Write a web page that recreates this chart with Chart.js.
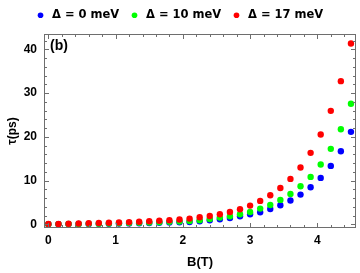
<!DOCTYPE html>
<html>
<head>
<meta charset="utf-8">
<script src="https://cdn.jsdelivr.net/npm/chart.js@4.4.0/dist/chart.umd.min.js"></script>
<style>
  html, body { margin: 0; padding: 0; background: #fff; }
  #wrap { width: 360px; height: 273px; }
</style>
</head>
<body>
<div id="wrap"><canvas id="tauChart" width="360" height="273"></canvas></div>
<script>
// magnetic field B (T), one point every 0.15 T
const fieldB = [0, 0.15, 0.3, 0.45, 0.6, 0.75, 0.9, 1.05, 1.2, 1.35, 1.5, 1.65, 1.8, 1.95,
  2.1, 2.25, 2.4, 2.55, 2.7, 2.85, 3.0, 3.15, 3.3, 3.45, 3.6, 3.75, 3.9, 4.05, 4.2, 4.35, 4.5];

// tau (ps)
const tauDelta0 = [0.01, 0.02, 0.04, 0.06, 0.08, 0.1, 0.13, 0.16, 0.2, 0.24, 0.29, 0.35, 0.41, 0.46,
  0.53, 0.69, 0.92, 1.14, 1.45, 1.83, 2.29, 2.75, 3.51, 4.35, 5.42, 6.79, 8.47, 10.6, 13.35, 16.7, 21.13];
const tauDelta10 = [0.02, 0.04, 0.06, 0.09, 0.12, 0.15, 0.19, 0.23, 0.28, 0.33, 0.4, 0.48, 0.56, 0.65,
  0.76, 0.92, 1.22, 1.53, 1.83, 2.29, 2.82, 3.59, 4.42, 5.57, 6.94, 8.7, 10.83, 13.65, 17.24, 21.74, 27.54];
const tauDelta17 = [0.05, 0.08, 0.12, 0.17, 0.22, 0.28, 0.35, 0.42, 0.5, 0.58, 0.68, 0.8, 0.92, 1.08,
  1.3, 1.6, 1.91, 2.29, 2.82, 3.43, 4.27, 5.34, 6.64, 8.31, 10.37, 12.97, 16.33, 20.52, 25.93, 32.72, 41.34];

const seriesLabels = ["Δ = 0 meV", "Δ = 10 meV", "Δ = 17 meV"];
const seriesColors = ["#0000ff", "#00ff00", "#ff0000"];

const xTickValues = [0, 1, 2, 3, 4];
const yTickValues = [0, 10, 20, 30, 40];
const xMinorStep = 0.2;
const yMinorStep = 2;

const FRAME = "#6e6e6e";
const FONT = "'Liberation Sans', Arial, sans-serif";

const toPoints = ys => fieldB.map((b, i) => ({ x: b, y: ys[i] }));

// Mathematica-like frame with inward ticks on all four sides
const frameTicks = {
  id: "frameTicks",
  afterDraw(chart) {
    const { ctx, chartArea: a, scales: { x, y } } = chart;
    ctx.save();
    ctx.strokeStyle = FRAME;
    ctx.lineWidth = 1;
    ctx.strokeRect(a.left + 0.5, a.top + 0.5, a.right - a.left - 1, a.bottom - a.top - 1);

    ctx.beginPath();
    for (let v = 0; v <= x.max + 1e-9; v += xMinorStep) {
      const major = Math.abs(v - Math.round(v)) < 1e-6;
      const len = major ? 5 : 3;
      const px = Math.round(x.getPixelForValue(v)) + 0.5;
      ctx.moveTo(px, a.bottom); ctx.lineTo(px, a.bottom - len);
      ctx.moveTo(px, a.top); ctx.lineTo(px, a.top + len);
    }
    for (let v = 0; v <= y.max + 1e-9; v += yMinorStep) {
      const major = v % 10 === 0;
      const len = major ? 5 : 3;
      const py = Math.round(y.getPixelForValue(v)) + 0.5;
      ctx.moveTo(a.left, py); ctx.lineTo(a.left + len, py);
      ctx.moveTo(a.right, py); ctx.lineTo(a.right - len, py);
    }
    ctx.stroke();

    ctx.fillStyle = "#000";
    ctx.font = "bold 14px " + FONT;
    ctx.textBaseline = "middle";
    ctx.fillText("(b)", a.left + 6, a.top + 12);
    ctx.restore();
  }
};

const ctx = document.getElementById("tauChart").getContext("2d");

new Chart(ctx, {
  type: "scatter",
  data: {
    datasets: [tauDelta0, tauDelta10, tauDelta17].map((ys, i) => ({
      label: seriesLabels[i],
      data: toPoints(ys),
      backgroundColor: seriesColors[i],
      borderWidth: 0,
      pointRadius: 3.2,
      order: 3 - i
    }))
  },
  options: {
    responsive: false,
    animation: false,
    layout: { padding: { top: 0, right: 2, bottom: 0, left: 0 } },
    plugins: {
      tooltip: { enabled: false },
      legend: {
        position: "top",
        labels: {
          usePointStyle: true,
          pointStyle: "circle",
          boxWidth: 12,
          boxHeight: 4,
          padding: 9.5,
          color: "#000",
          font: { family: "'DejaVu Sans', sans-serif", size: 11.5, weight: "bold" },
          sort: (a, b) => a.datasetIndex - b.datasetIndex
        }
      }
    },
    scales: {
      x: {
        type: "linear",
        min: -0.065,
        max: 4.575,
        afterBuildTicks: s => { s.ticks = xTickValues.map(v => ({ value: v })); },
        afterFit: s => { s.height = 45; },
        grid: { display: false, drawTicks: false },
        border: { display: false },
        ticks: {
          padding: 5,
          color: "#000",
          font: { family: FONT, size: 12, weight: "bold" }
        },
        title: {
          display: true,
          text: "B(T)",
          color: "#000",
          padding: { top: 0, bottom: 3 },
          font: { family: FONT, size: 13, weight: "bold" }
        }
      },
      // empty top axis, only used as a small gap under the legend
      xTop: {
        type: "linear",
        position: "top",
        min: -0.065,
        max: 4.575,
        afterFit: s => { s.height = 3; },
        grid: { display: false, drawTicks: false },
        border: { display: false },
        ticks: { display: false }
      },
      y: {
        type: "linear",
        min: -0.85,
        max: 43.5,
        afterBuildTicks: s => { s.ticks = yTickValues.map(v => ({ value: v })); },
        afterFit: s => { s.width = 44; },
        grid: { display: false, drawTicks: false },
        border: { display: false },
        ticks: {
          padding: 7,
          color: "#000",
          font: { family: FONT, size: 12, weight: "bold" }
        },
        title: {
          display: true,
          text: "τ(ps)",
          color: "#000",
          padding: { top: 5, bottom: 0 },
          font: { family: FONT, size: 12, weight: "bold" }
        }
      }
    }
  },
  plugins: [frameTicks]
});
</script>
</body>
</html>
